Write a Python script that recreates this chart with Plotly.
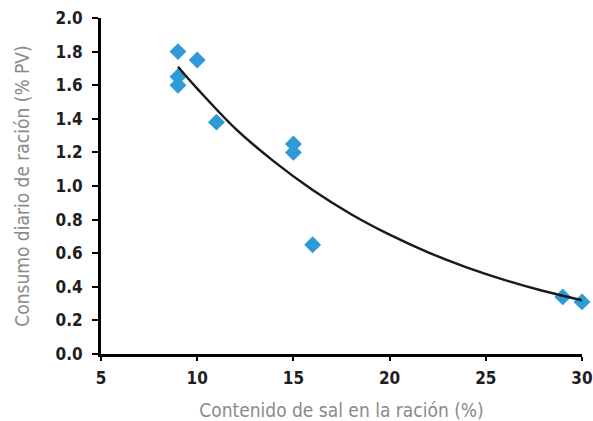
import plotly.graph_objects as go

# Observed data
sal = [9, 9, 9, 10, 11, 15, 15, 16, 29, 30]
consumo = [1.80, 1.65, 1.60, 1.75, 1.38, 1.25, 1.20, 0.65, 0.34, 0.31]

# Trend curve
curva_x = [9, 10, 12, 14, 16, 18, 20, 22, 24, 26, 28, 30]
curva_y = [1.71, 1.58, 1.34, 1.145, 0.976, 0.832, 0.71, 0.605, 0.516, 0.44, 0.375, 0.32]

x_ticks = [5, 10, 15, 20, 25, 30]
y_ticks = [0.0, 0.2, 0.4, 0.6, 0.8, 1.0, 1.2, 1.4, 1.6, 1.8, 2.0]

fig = go.Figure()
fig.add_trace(go.Scatter(
    x=sal, y=consumo, mode="markers",
    marker=dict(symbol="diamond", size=13, color="#2f9ad8"),
    cliponaxis=False, showlegend=False,
))
fig.add_trace(go.Scatter(
    x=curva_x, y=curva_y, mode="lines",
    line=dict(color="#1a1a1a", width=2.5, shape="spline"),
    cliponaxis=False, showlegend=False,
))

tick_font = dict(size=17, color="#1e1e1e", family="DejaVu Sans Condensed", weight="bold")
title_font = dict(size=19, color="#8a8a8a", family="DejaVu Sans Condensed")

fig.update_layout(
    width=593, height=421,
    margin=dict(l=101, r=11, t=18, b=67),
    paper_bgcolor="white", plot_bgcolor="white",
)
fig.update_xaxes(
    range=[5, 30], tickvals=x_ticks, ticktext=[str(v) for v in x_ticks],
    showgrid=False, zeroline=False, automargin=False,
    showline=True, linecolor="black", linewidth=3,
    ticks="outside", ticklen=4, tickwidth=2, tickcolor="black",
    ticklabelstandoff=3, ticklabeloverflow="allow",
    tickfont=tick_font,
    title=dict(text="Contenido de sal en la ración (%)", font=title_font, standoff=19),
)
fig.update_yaxes(
    range=[0, 2.0], tickvals=y_ticks, ticktext=[f"{v:.1f}" for v in y_ticks],
    showgrid=False, zeroline=False, automargin=False,
    showline=True, linecolor="black", linewidth=3,
    ticks="outside", ticklen=6, tickwidth=2, tickcolor="black",
    ticklabelstandoff=6, ticklabeloverflow="allow",
    tickfont=tick_font,
    title=dict(text="Consumo diario de ración (% PV)", font=title_font, standoff=21),
)

fig.write_html(
    "out.html",
    config={"displayModeBar": False},
    post_script="document.body.style.margin='0';document.body.style.overflow='hidden';",
)
